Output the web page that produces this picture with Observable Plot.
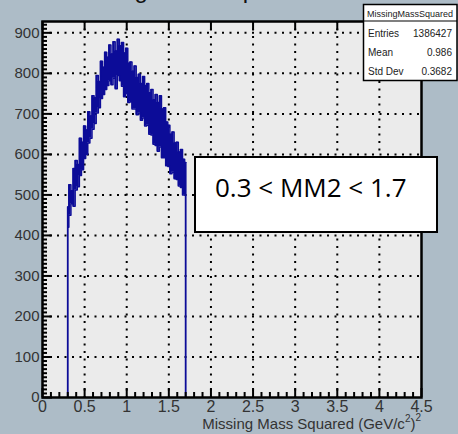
<!DOCTYPE html>
<html><head><meta charset="utf-8">
<script src="https://cdn.jsdelivr.net/npm/d3@7"></script>
<script src="https://cdn.jsdelivr.net/npm/@observablehq/plot@0.6"></script>
<style>html,body{margin:0;padding:0;background:#adbcc7;overflow:hidden}#chart svg{display:block}</style>
</head><body><div id="chart"></div>
<script>
// Histogram band: bin positions, upper and lower envelope of the noisy counts
const binX = [0.300,0.325,0.350,0.375,0.400,0.425,0.450,0.475,0.500,0.525,0.550,0.575,0.600,0.625,0.650,0.675,0.700,0.725,0.750,0.775,0.800,0.825,0.850,0.875,0.900,0.925,0.950,0.975,1.000,1.025,1.050,1.075,1.100,1.125,1.150,1.175,1.200,1.225,1.250,1.275,1.300,1.325,1.350,1.375,1.400,1.425,1.450,1.475,1.500,1.525,1.550,1.575,1.600,1.625,1.650,1.675,1.700];
const upper = [470,525,510,565,585,575,640,630,670,660,705,695,745,740,795,780,830,815,852,840,870,848,878,855,884,868,876,850,862,825,828,805,818,790,798,775,792,770,775,752,760,735,748,728,745,712,715,680,672,650,655,628,630,606,612,588,580];
const lower = [420,450,478,472,512,520,548,562,590,600,628,640,662,676,702,715,738,748,760,770,782,772,788,762,795,782,768,742,750,728,730,712,712,698,702,684,690,670,672,650,648,625,622,608,618,592,592,572,570,552,556,540,538,522,518,500,500];
const xTicks = [0,0.5,1,1.5,2,2.5,3,3.5,4,4.5];
const yTicks = [0,100,200,300,400,500,600,700,800,900];
const statsTitle = "MissingMassSquared";
const statsNames = ["Entries","Mean","Std Dev"];
const statsValues = ["1386427","0.986","0.3682"];
const rangeLabel = "0.3 < MM2 < 1.7";
const chartTitle = "Missing Mass Squared";

const hist = binX.map((x, i) => ({x, lo: lower[i], hi: upper[i]}));
const xMinor = d3.range(0, 46).map(i => i / 10).filter(d => !xTicks.some(t => Math.abs(t - d) < 1e-9));
const yMinor = d3.range(0, 93).map(i => i * 10).filter(d => d % 100 !== 0);
const W = 458, H = 434, ML = 42, MR = 37, MT = 21, MB = 37;
const iw = W - ML - MR, ih = H - MT - MB;
const blue = "#0c0c98";
const FONT = "Liberation Sans, Arial, sans-serif";

const plot = Plot.plot({
  width: W, height: H,
  marginLeft: ML, marginRight: MR, marginTop: MT, marginBottom: MB,
  x: {domain: [0, 4.5]},
  y: {domain: [0, 928]},
  style: {background: "transparent", fontFamily: FONT, overflow: "visible"},
  marks: [
    Plot.frame({fill: "#ebebeb"}),
    Plot.gridX(xTicks.filter(d => d > 0 && d < 4.5), {stroke: "#000", strokeOpacity: 1, strokeWidth: 2, strokeDasharray: "2,5.5"}),
    Plot.gridY(yTicks.filter(d => d > 0), {stroke: "#000", strokeOpacity: 1, strokeWidth: 2, strokeDasharray: "2,5.5"}),
    Plot.areaY(hist, {x: "x", y1: "lo", y2: "hi", curve: "step", fill: blue}),
    Plot.lineY(hist, {x: "x", y: "hi", curve: "step", stroke: blue, strokeWidth: 1.5}),
    Plot.lineY(hist, {x: "x", y: "lo", curve: "step", stroke: blue, strokeWidth: 1.5}),
    Plot.ruleX([hist[0], hist[hist.length - 1]], {x: "x", y1: 0, y2: "hi", stroke: blue, strokeWidth: 1.8}),
    Plot.tickX(xTicks, {x: d => d, insetTop: ih - 9, stroke: "#000", strokeWidth: 2}),
    Plot.tickX(xTicks, {x: d => d, insetBottom: ih - 9, stroke: "#000", strokeWidth: 2}),
    Plot.tickX(xMinor, {x: d => d, insetTop: ih - 5, stroke: "#000", strokeWidth: 2}),
    Plot.tickY(yTicks, {y: d => d, insetRight: iw - 10, stroke: "#000", strokeWidth: 2}),
    Plot.tickY(yMinor, {y: d => d, insetRight: iw - 5, stroke: "#000", strokeWidth: 2}),
    Plot.frame({stroke: "#000", strokeWidth: 2.5}),
    Plot.axisX({ticks: xTicks, tickSize: 0, tickPadding: 3, tickFormat: d => String(d), fontSize: 16, fill: "#333", label: null}),
    Plot.axisY({ticks: yTicks, tickSize: 0, tickPadding: 3, tickFormat: d => String(d), fontSize: 15, fill: "#333", label: null})
  ]
});
document.getElementById("chart").appendChild(plot);

const svg = d3.select(plot);
const txt = (sel, x, y, size, anchor, fill, family) => sel.append("text")
  .attr("x", x).attr("y", y).attr("text-anchor", anchor).attr("font-family", family || FONT)
  .attr("font-size", size).attr("fill", fill);

// title, clipped at the very top as in the reference
txt(svg, 188, -2, 24, "middle", "#111").text(chartTitle);

// axis title with superscripts
const xt = txt(svg, ML + iw, 429, 15, "end", "#333");
xt.append("tspan").text("Missing Mass Squared (GeV/c");
xt.append("tspan").attr("font-size", 10).attr("dy", -7).text("2");
xt.append("tspan").attr("dy", 7).text(")");
xt.append("tspan").attr("font-size", 10).attr("dy", -8).text("2");

// stats box
const sb = svg.append("g");
sb.append("rect").attr("x", 363.5).attr("y", 4.5).attr("width", 93.5).attr("height", 76)
  .attr("fill", "#fff").attr("stroke", "#000").attr("stroke-width", 1.5);
sb.append("line").attr("x1", 363.5).attr("x2", 457).attr("y1", 21).attr("y2", 21).attr("stroke", "#000").attr("stroke-width", 1.2);
txt(sb, 410, 16.5, 9, "middle", "#222").text(statsTitle);
statsNames.forEach((n, i) => {
  const y = 36.5 + i * 19;
  txt(sb, 368, y, 10, "start", "#222").text(n);
  txt(sb, 452, y, 10, "end", "#222").text(statsValues[i]);
});

// range label box
const rb = svg.append("g");
rb.append("rect").attr("x", 195).attr("y", 157).attr("width", 242).attr("height", 75)
  .attr("fill", "#fff").attr("stroke", "#000").attr("stroke-width", 2);
txt(rb, 215, 197, 26, "start", "#000", "Open Sans, Liberation Sans").text(rangeLabel);
</script>
</body></html>
